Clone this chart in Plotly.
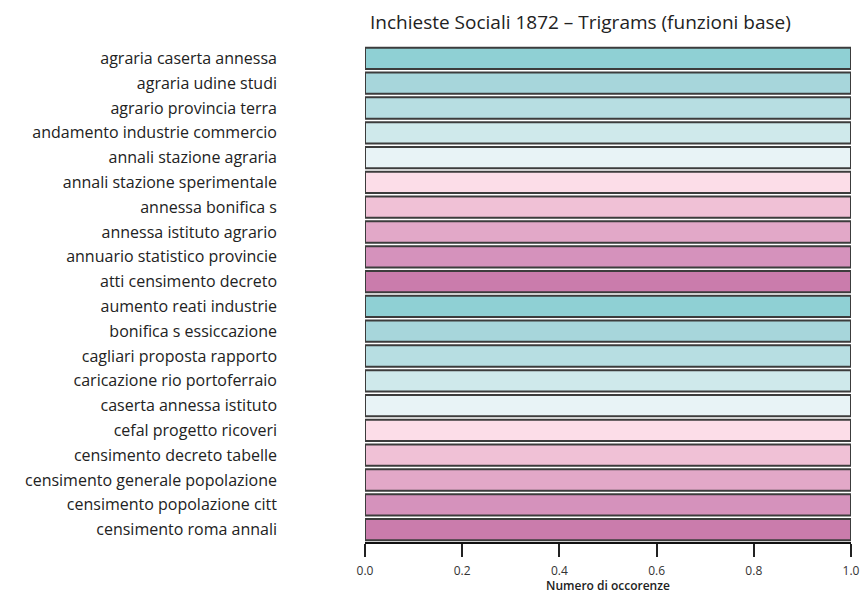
import plotly.graph_objects as go

# Trigrams (top to bottom) and their counts
trigrams = [
    "agraria caserta annessa",
    "agraria udine studi",
    "agrario provincia terra",
    "andamento industrie commercio",
    "annali stazione agraria",
    "annali stazione sperimentale",
    "annessa bonifica s",
    "annessa istituto agrario",
    "annuario statistico provincie",
    "atti censimento decreto",
    "aumento reati industrie",
    "bonifica s essiccazione",
    "cagliari proposta rapporto",
    "caricazione rio portoferraio",
    "caserta annessa istituto",
    "cefal progetto ricoveri",
    "censimento decreto tabelle",
    "censimento generale popolazione",
    "censimento popolazione citt",
    "censimento roma annali",
]
counts = [1, 1, 1, 1, 1, 1, 1, 1, 1, 1, 1, 1, 1, 1, 1, 1, 1, 1, 1, 1]

# teal -> pink palette, repeated
palette = ["#8fd0d4", "#a7d6db", "#b7dee2", "#cfe9eb", "#e8f3f6",
           "#fcdde8", "#f0c1d6", "#e2a8c8", "#d592bc", "#ca7cac"]
colors = [palette[i % len(palette)] for i in range(len(trigrams))]

fig = go.Figure()
fig.add_trace(go.Bar(
    x=counts, y=trigrams,
    orientation='h',
    marker=dict(color=colors, line=dict(color='#3c3c3c', width=2)),
    width=0.86,
))

W, H = 863, 593
fig.update_layout(
    width=W, height=H,
    margin=dict(l=365, r=12, t=46, b=51, autoexpand=False),
    paper_bgcolor='white', plot_bgcolor='white',
    font=dict(family='Open Sans, sans-serif', color='#222'),
    title=dict(text='Inchieste Sociali 1872 – Trigrams (funzioni base)',
               x=370 / W, xanchor='left', y=1 - 22 / H, yanchor='middle',
               font=dict(size=19, color='#222')),
    showlegend=False,
)
# axis title placed as an annotation so it can sit close to the tick labels
fig.add_annotation(
    text='Numero di occorenze', xref='paper', yref='paper',
    x=0.5, y=0, xanchor='center', yanchor='middle', yshift=-43,
    showarrow=False, font=dict(size=12, color='#222', weight=600),
)
fig.update_xaxes(
    range=[0, 1], dtick=0.2, tickformat='.1f', automargin=False,
    showgrid=False, zeroline=False,
    showline=True, linecolor='#111', linewidth=2,
    ticks='outside', ticklen=13, tickwidth=2, tickcolor='#222',
    ticklabelstandoff=4,
    tickfont=dict(size=12, color='#333'),
)
fig.update_yaxes(
    autorange='reversed', automargin=False,
    showgrid=False, showline=False, zeroline=False,
    ticks='', ticklabelstandoff=87, tickfont=dict(size=16, color='#222'),
)

# drop the default body margin so the figure fills the window
fig.write_html("out.html",
               config={'displayModeBar': False},
               post_script="document.body.style.margin='0';"
                           "document.body.style.overflow='hidden';")
